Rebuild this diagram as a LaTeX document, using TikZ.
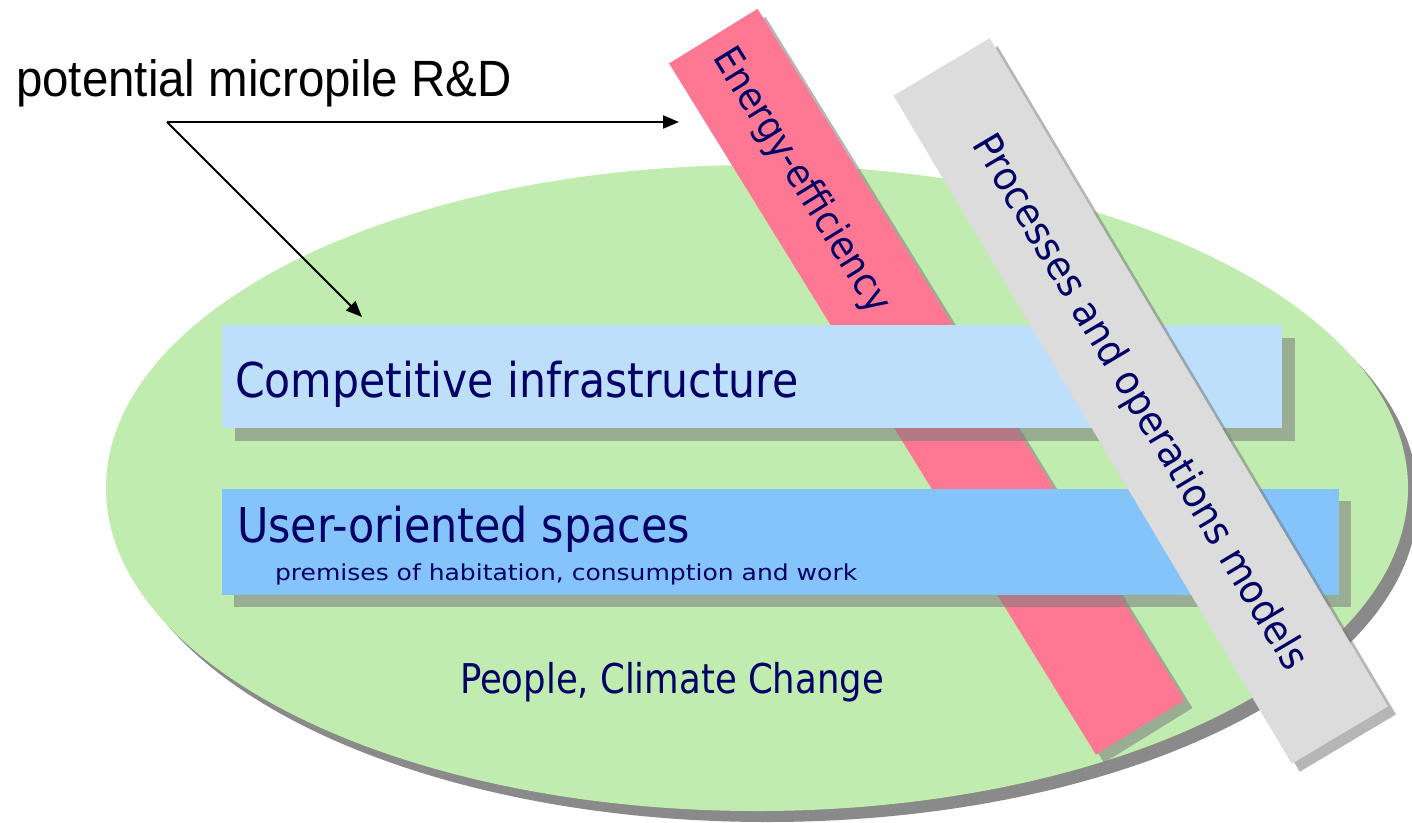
\documentclass[tikz,border=0pt]{standalone}
\usepackage{fontspec}
\usepackage{graphicx}
\setmainfont{DejaVu Sans}
\newfontfamily\arialf{Liberation Sans}
\usetikzlibrary{arrows.meta,shapes.geometric}
\definecolor{ellgreen}{HTML}{C0ECB0}
\definecolor{barpink}{HTML}{FF7893}
\definecolor{barlight}{HTML}{BDDFFB}
\definecolor{barblue}{HTML}{85C3FB}
\definecolor{bargray}{HTML}{DCDCDC}
\definecolor{navytext}{HTML}{000066}
\definecolor{shadowgray}{HTML}{8A8A8A}
\definecolor{shadowtone}{HTML}{7A7A7A}
\newcommand{\fsz}[1]{\fontsize{#1}{#1}\selectfont}
\newcommand{\hstretch}[2]{\scalebox{#1}[1]{#2}}
\begin{document}
\begin{tikzpicture}[x=1pt,y=-1pt,
  bar/.style={draw=none, inner sep=0pt, outer sep=0pt, rectangle},
  shade/.style={bar, fill=shadowtone, fill opacity=0.55},
  lbl/.style={text=navytext, inner sep=0pt, outer sep=0pt},
  ptr/.style={draw=black, line width=2pt, -{Triangle[length=16pt,width=13pt]}}]
\useasboundingbox (0,0) rectangle (1412,822);
% base ellipse
\node[ellipse, fill=shadowgray, draw=none, inner sep=0pt, minimum width=1302pt, minimum height=646pt] (ellsh) at (767,499) {};
\node[ellipse, fill=ellgreen, draw=none, inner sep=0pt, minimum width=1302pt, minimum height=646pt] (ell) at (757,488) {};
% energy-efficiency bar
\node[shade, rotate=-58.3, minimum width=812.5pt, minimum height=104pt] (energysh) at (934.75,389.75) {};
\node[bar, fill=barpink, rotate=-58.3, minimum width=812.5pt, minimum height=104pt] (energy) at (926.75,381.75) {};
% competitive infrastructure bar
\node[shade, minimum width=1060pt, minimum height=103pt] (compsh) at (765,389.5) {};
\node[bar, fill=barlight, minimum width=1060pt, minimum height=103pt] (comp) at (752,376.5) {};
% user-oriented spaces bar
\node[shade, minimum width=1117pt, minimum height=106pt] (usersh) at (792.5,554) {};
\node[bar, fill=barblue, minimum width=1117pt, minimum height=106pt] (user) at (780.5,542) {};
% processes bar
\node[shade, rotate=-59.2, minimum width=777.8pt, minimum height=112pt] (procsh) at (1148.75,409) {};
\node[bar, fill=bargray, rotate=-59.2, minimum width=777.8pt, minimum height=112pt] (proc) at (1140.75,401) {};
% texts
\node[lbl, anchor=base west] (comptext) at (235,397) {\fsz{48}\hstretch{0.888}{Competitive infrastructure}};
\node[lbl, anchor=base west] (usertext) at (237,542) {\fsz{48}\hstretch{0.894}{User-oriented spaces}};
\node[lbl, anchor=base west] (premtext) at (275,580) {\fsz{22}\hstretch{1.137}{premises of habitation, consumption and work}};
\node[lbl, anchor=base west] (peopletext) at (460,693) {\fsz{41}\hstretch{0.865}{People, Climate Change}};
\node[lbl, rotate=-58.3] (energytext) at (801,181) {\fsz{39}\hstretch{0.9}{Energy-efficiency}};
\node[lbl, rotate=-59.2] (proctext) at (1139,403) {\fsz{40}\hstretch{0.92}{Processes and operations models}};
\node[anchor=base west, inner sep=0pt, text=black] (rd) at (16,96) {\arialf\fsz{51}\hstretch{0.93}{potential micropile R\&D}};
% pointers
\coordinate (src) at (167,122);
\coordinate (t1) at (679,122);
\coordinate (t2) at (362,317);
\draw[ptr] (src) -- (t1);
\draw[ptr] (src) -- (t2);
\end{tikzpicture}
\end{document}
